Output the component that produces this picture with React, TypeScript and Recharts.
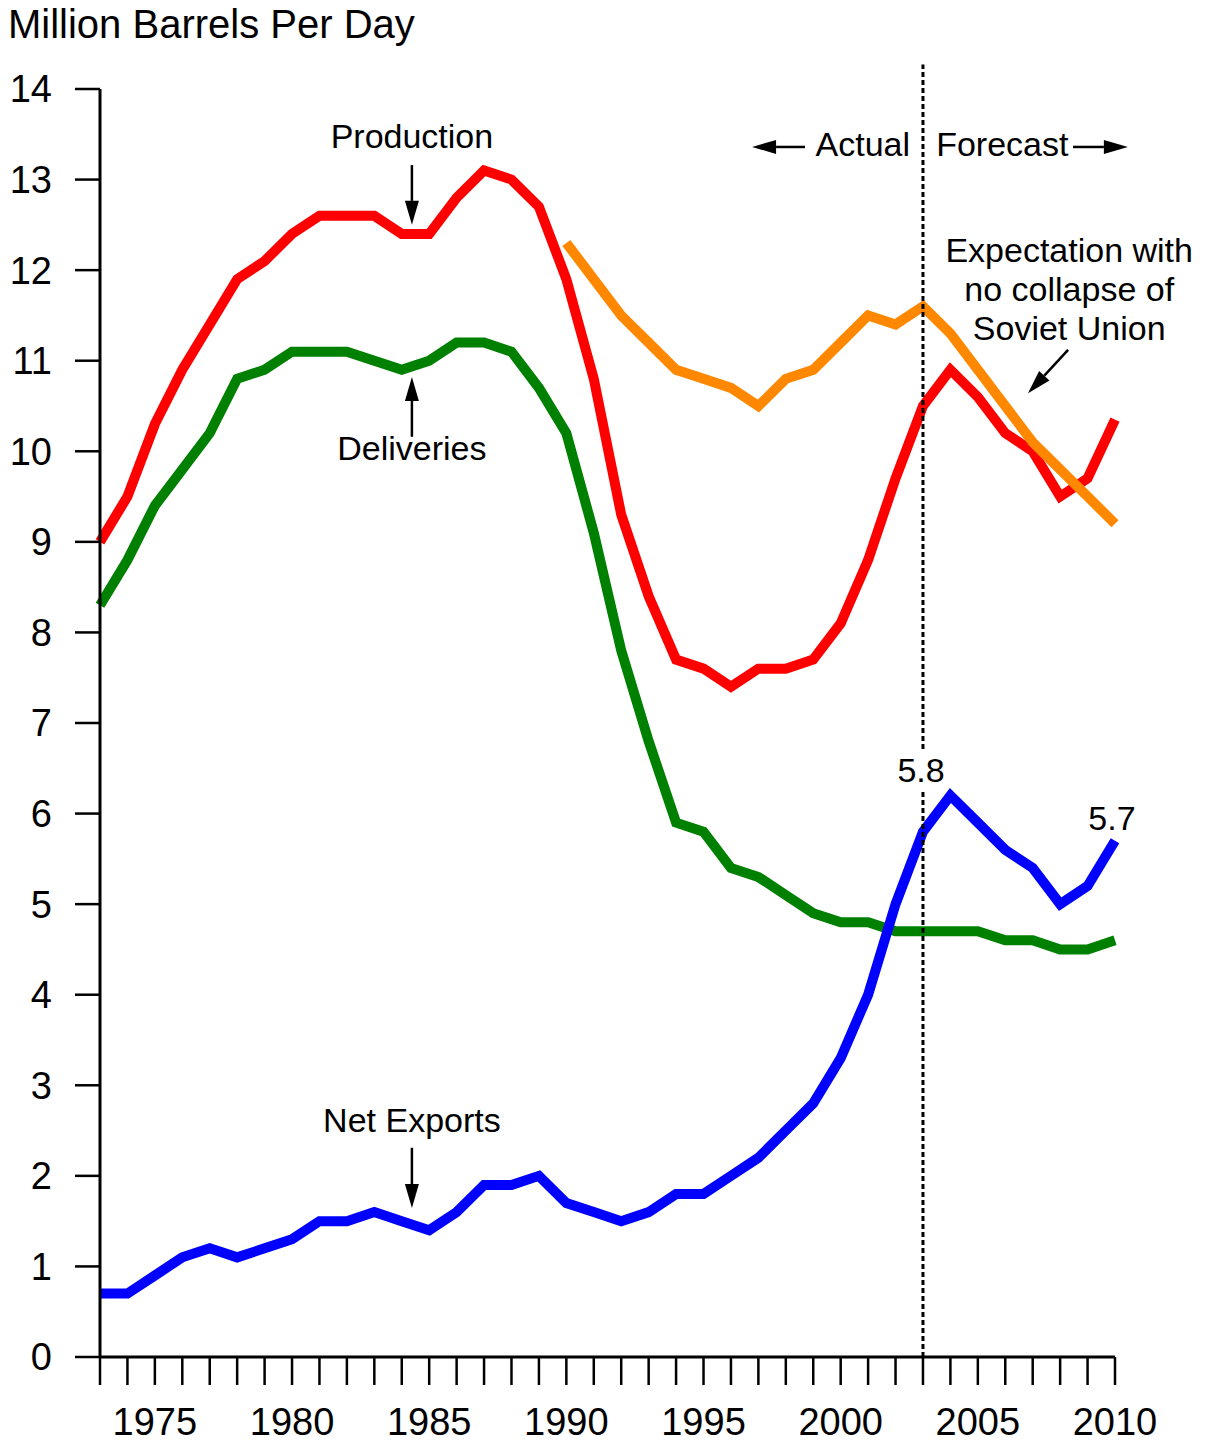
import React from 'react';
import { LineChart, Line, XAxis, YAxis, ReferenceLine, ReferenceDot } from 'recharts';

const years = [
  1973, 1974, 1975, 1976, 1977, 1978, 1979, 1980, 1981, 1982,
  1983, 1984, 1985, 1986, 1987, 1988, 1989, 1990, 1991, 1992,
  1993, 1994, 1995, 1996, 1997, 1998, 1999, 2000, 2001, 2002,
  2003, 2004, 2005, 2006, 2007, 2008, 2009, 2010,
];

const production = [
  9.0, 9.5, 10.3, 10.9, 11.4, 11.9, 12.1, 12.4, 12.6, 12.6,
  12.6, 12.4, 12.4, 12.8, 13.1, 13.0, 12.7, 11.9, 10.8, 9.3,
  8.4, 7.7, 7.6, 7.4, 7.6, 7.6, 7.7, 8.1, 8.8, 9.7,
  10.5, 10.9, 10.6, 10.2, 10.0, 9.5, 9.7, 10.35,
];

const deliveries = [
  8.3, 8.8, 9.4, 9.8, 10.2, 10.8, 10.9, 11.1, 11.1, 11.1,
  11.0, 10.9, 11.0, 11.2, 11.2, 11.1, 10.7, 10.2, 9.1, 7.8,
  6.8, 5.9, 5.8, 5.4, 5.3, 5.1, 4.9, 4.8, 4.8, 4.7,
  4.7, 4.7, 4.7, 4.6, 4.6, 4.5, 4.5, 4.6,
];

const netExports = [
  0.7, 0.7, 0.9, 1.1, 1.2, 1.1, 1.2, 1.3, 1.5, 1.5,
  1.6, 1.5, 1.4, 1.6, 1.9, 1.9, 2.0, 1.7, 1.6, 1.5,
  1.6, 1.8, 1.8, 2.0, 2.2, 2.5, 2.8, 3.3, 4.0, 5.0,
  5.8, 6.2, 5.9, 5.6, 5.4, 5.0, 5.2, 5.7,
];

// no-collapse expectation starts in 1990
const expectation = [
  null, null, null, null, null, null, null, null, null, null,
  null, null, null, null, null, null, null, 12.3, 11.9, 11.5,
  11.2, 10.9, 10.8, 10.7, 10.5, 10.8, 10.9, 11.2, 11.5, 11.4,
  11.6, 11.3, 10.9, 10.5, 10.1, 9.8, 9.5, 9.2,
];

const yTicks = [0, 1, 2, 3, 4, 5, 6, 7, 8, 9, 10, 11, 12, 13, 14];
const yearLabels = [1975, 1980, 1985, 1990, 1995, 2000, 2005, 2010];

const data = years.map((year, i) => ({
  year,
  production: production[i],
  deliveries: deliveries[i],
  netExports: netExports[i],
  expectation: expectation[i],
}));

const FONT = '"Liberation Sans", Arial, Helvetica, sans-serif';

const YearTick = (props: any) => {
  const { x, y, payload } = props;
  if (!yearLabels.includes(payload.value)) return <g />;
  return (
    <text x={x} y={y + 50} textAnchor="middle" fontSize={38} fontFamily={FONT} fill="#000">
      {payload.value}
    </text>
  );
};

// arrow drawn as reference segment, head at second point
const arrowShape = (props: any) => {
  const { x1, y1, x2, y2 } = props;
  const dx = x2 - x1;
  const dy = y2 - y1;
  const len = Math.sqrt(dx * dx + dy * dy) || 1;
  const ux = dx / len;
  const uy = dy / len;
  const headLen = 24;
  const headHalf = 7;
  const bx = x2 - ux * headLen;
  const by = y2 - uy * headLen;
  return (
    <g>
      <line x1={x1} y1={y1} x2={bx} y2={by} stroke="#000" strokeWidth={2.5} />
      <polygon
        points={`${x2},${y2} ${bx - uy * headHalf},${by + ux * headHalf} ${bx + uy * headHalf},${by - ux * headHalf}`}
        fill="#000"
      />
    </g>
  );
};

const textShape = (lines: string[], anchor: string = 'middle', bg = false) => (props: any) => {
  const { cx, cy } = props;
  const lh = 39;
  const top = cy - ((lines.length - 1) * lh) / 2;
  return (
    <g>
      {bg && <rect x={cx - 26} y={cy - 20} width={52} height={40} fill="#fff" />}
      {lines.map((t, i) => (
        <text
          key={t}
          x={cx}
          y={top + i * lh}
          dy="0.36em"
          textAnchor={anchor}
          fontSize={34}
          fontFamily={FONT}
          fill="#000"
        >
          {t}
        </text>
      ))}
    </g>
  );
};

export default function App() {
  return (
    <div style={{ position: 'absolute', left: 0, top: 0, width: 1209, height: 1448, background: '#fff' }}>
      <div
        style={{
          position: 'absolute',
          left: 8,
          top: 1,
          fontFamily: FONT,
          fontSize: 40,
          lineHeight: '46px',
          color: '#000',
          whiteSpace: 'nowrap',
        }}
      >
        Million Barrels Per Day
      </div>
      <LineChart width={1209} height={1448} data={data} margin={{ top: 89, right: 94, left: 0, bottom: 0 }}>
        <XAxis
          dataKey="year"
          type="number"
          domain={[1973, 2010]}
          ticks={years}
          interval={0}
          height={91}
          tickSize={28}
          tickMargin={0}
          axisLine={{ stroke: '#000', strokeWidth: 3 }}
          tickLine={{ stroke: '#000', strokeWidth: 2.5 }}
          tick={<YearTick />}
        />
        <YAxis
          type="number"
          domain={[0, 14]}
          ticks={yTicks}
          interval={0}
          width={100}
          tickSize={25}
          tickMargin={23}
          axisLine={{ stroke: '#000', strokeWidth: 3 }}
          tickLine={{ stroke: '#000', strokeWidth: 2.5 }}
          tick={{ fill: '#000', fontSize: 38, fontFamily: FONT }}
        />
        <Line
          dataKey="deliveries"
          stroke="#008000"
          strokeWidth={10}
          dot={false}
          activeDot={false}
          type="linear"
          strokeLinejoin="miter"
          strokeLinecap="butt"
          isAnimationActive={false}
        />
        <Line
          dataKey="production"
          stroke="#FF0000"
          strokeWidth={10}
          dot={false}
          activeDot={false}
          type="linear"
          strokeLinejoin="miter"
          strokeLinecap="butt"
          isAnimationActive={false}
        />
        <Line
          dataKey="expectation"
          stroke="#FF8800"
          strokeWidth={10}
          dot={false}
          activeDot={false}
          type="linear"
          strokeLinejoin="miter"
          strokeLinecap="butt"
          isAnimationActive={false}
        />
        <Line
          dataKey="netExports"
          stroke="#0000FF"
          strokeWidth={10}
          dot={false}
          activeDot={false}
          type="linear"
          strokeLinejoin="miter"
          strokeLinecap="butt"
          isAnimationActive={false}
        />
        <ReferenceLine
          segment={[{ x: 2003, y: 0 }, { x: 2003, y: 14.27 }]}
          stroke="#000"
          strokeWidth={3}
          strokeDasharray="5 3"
          ifOverflow="visible"
        />
        <ReferenceLine segment={[{ x: 1984.37, y: 13.16 }, { x: 1984.37, y: 12.5 }]} ifOverflow="visible" shape={arrowShape} />
        <ReferenceLine segment={[{ x: 1984.37, y: 10.16 }, { x: 1984.37, y: 10.82 }]} ifOverflow="visible" shape={arrowShape} />
        <ReferenceLine segment={[{ x: 1984.37, y: 2.31 }, { x: 1984.37, y: 1.645 }]} ifOverflow="visible" shape={arrowShape} />
        <ReferenceLine segment={[{ x: 1998.7, y: 13.36 }, { x: 1996.77, y: 13.36 }]} ifOverflow="visible" shape={arrowShape} />
        <ReferenceLine segment={[{ x: 2008.47, y: 13.36 }, { x: 2010.47, y: 13.36 }]} ifOverflow="visible" shape={arrowShape} />
        <ReferenceLine segment={[{ x: 2008.29, y: 11.12 }, { x: 2006.83, y: 10.64 }]} ifOverflow="visible" shape={arrowShape} />
        <ReferenceDot x={1984.37} y={13.48} r={0} ifOverflow="visible" shape={textShape(['Production'])} />
        <ReferenceDot x={1984.37} y={10.04} r={0} ifOverflow="visible" shape={textShape(['Deliveries'])} />
        <ReferenceDot x={1984.37} y={2.62} r={0} ifOverflow="visible" shape={textShape(['Net Exports'])} />
        <ReferenceDot x={2002.53} y={13.4} r={0} ifOverflow="visible" shape={textShape(['Actual'], 'end')} />
        <ReferenceDot x={2003.48} y={13.4} r={0} ifOverflow="visible" shape={textShape(['Forecast'], 'start')} />
        <ReferenceDot
          x={2008.33}
          y={11.79}
          r={0}
          ifOverflow="visible"
          shape={textShape(['Expectation with', 'no collapse of', 'Soviet Union'])}
        />
        <ReferenceDot x={2002.93} y={6.48} r={0} ifOverflow="visible" shape={textShape(['5.8'], 'middle', true)} />
        <ReferenceDot x={2009.89} y={5.95} r={0} ifOverflow="visible" shape={textShape(['5.7'])} />
      </LineChart>
    </div>
  );
}
